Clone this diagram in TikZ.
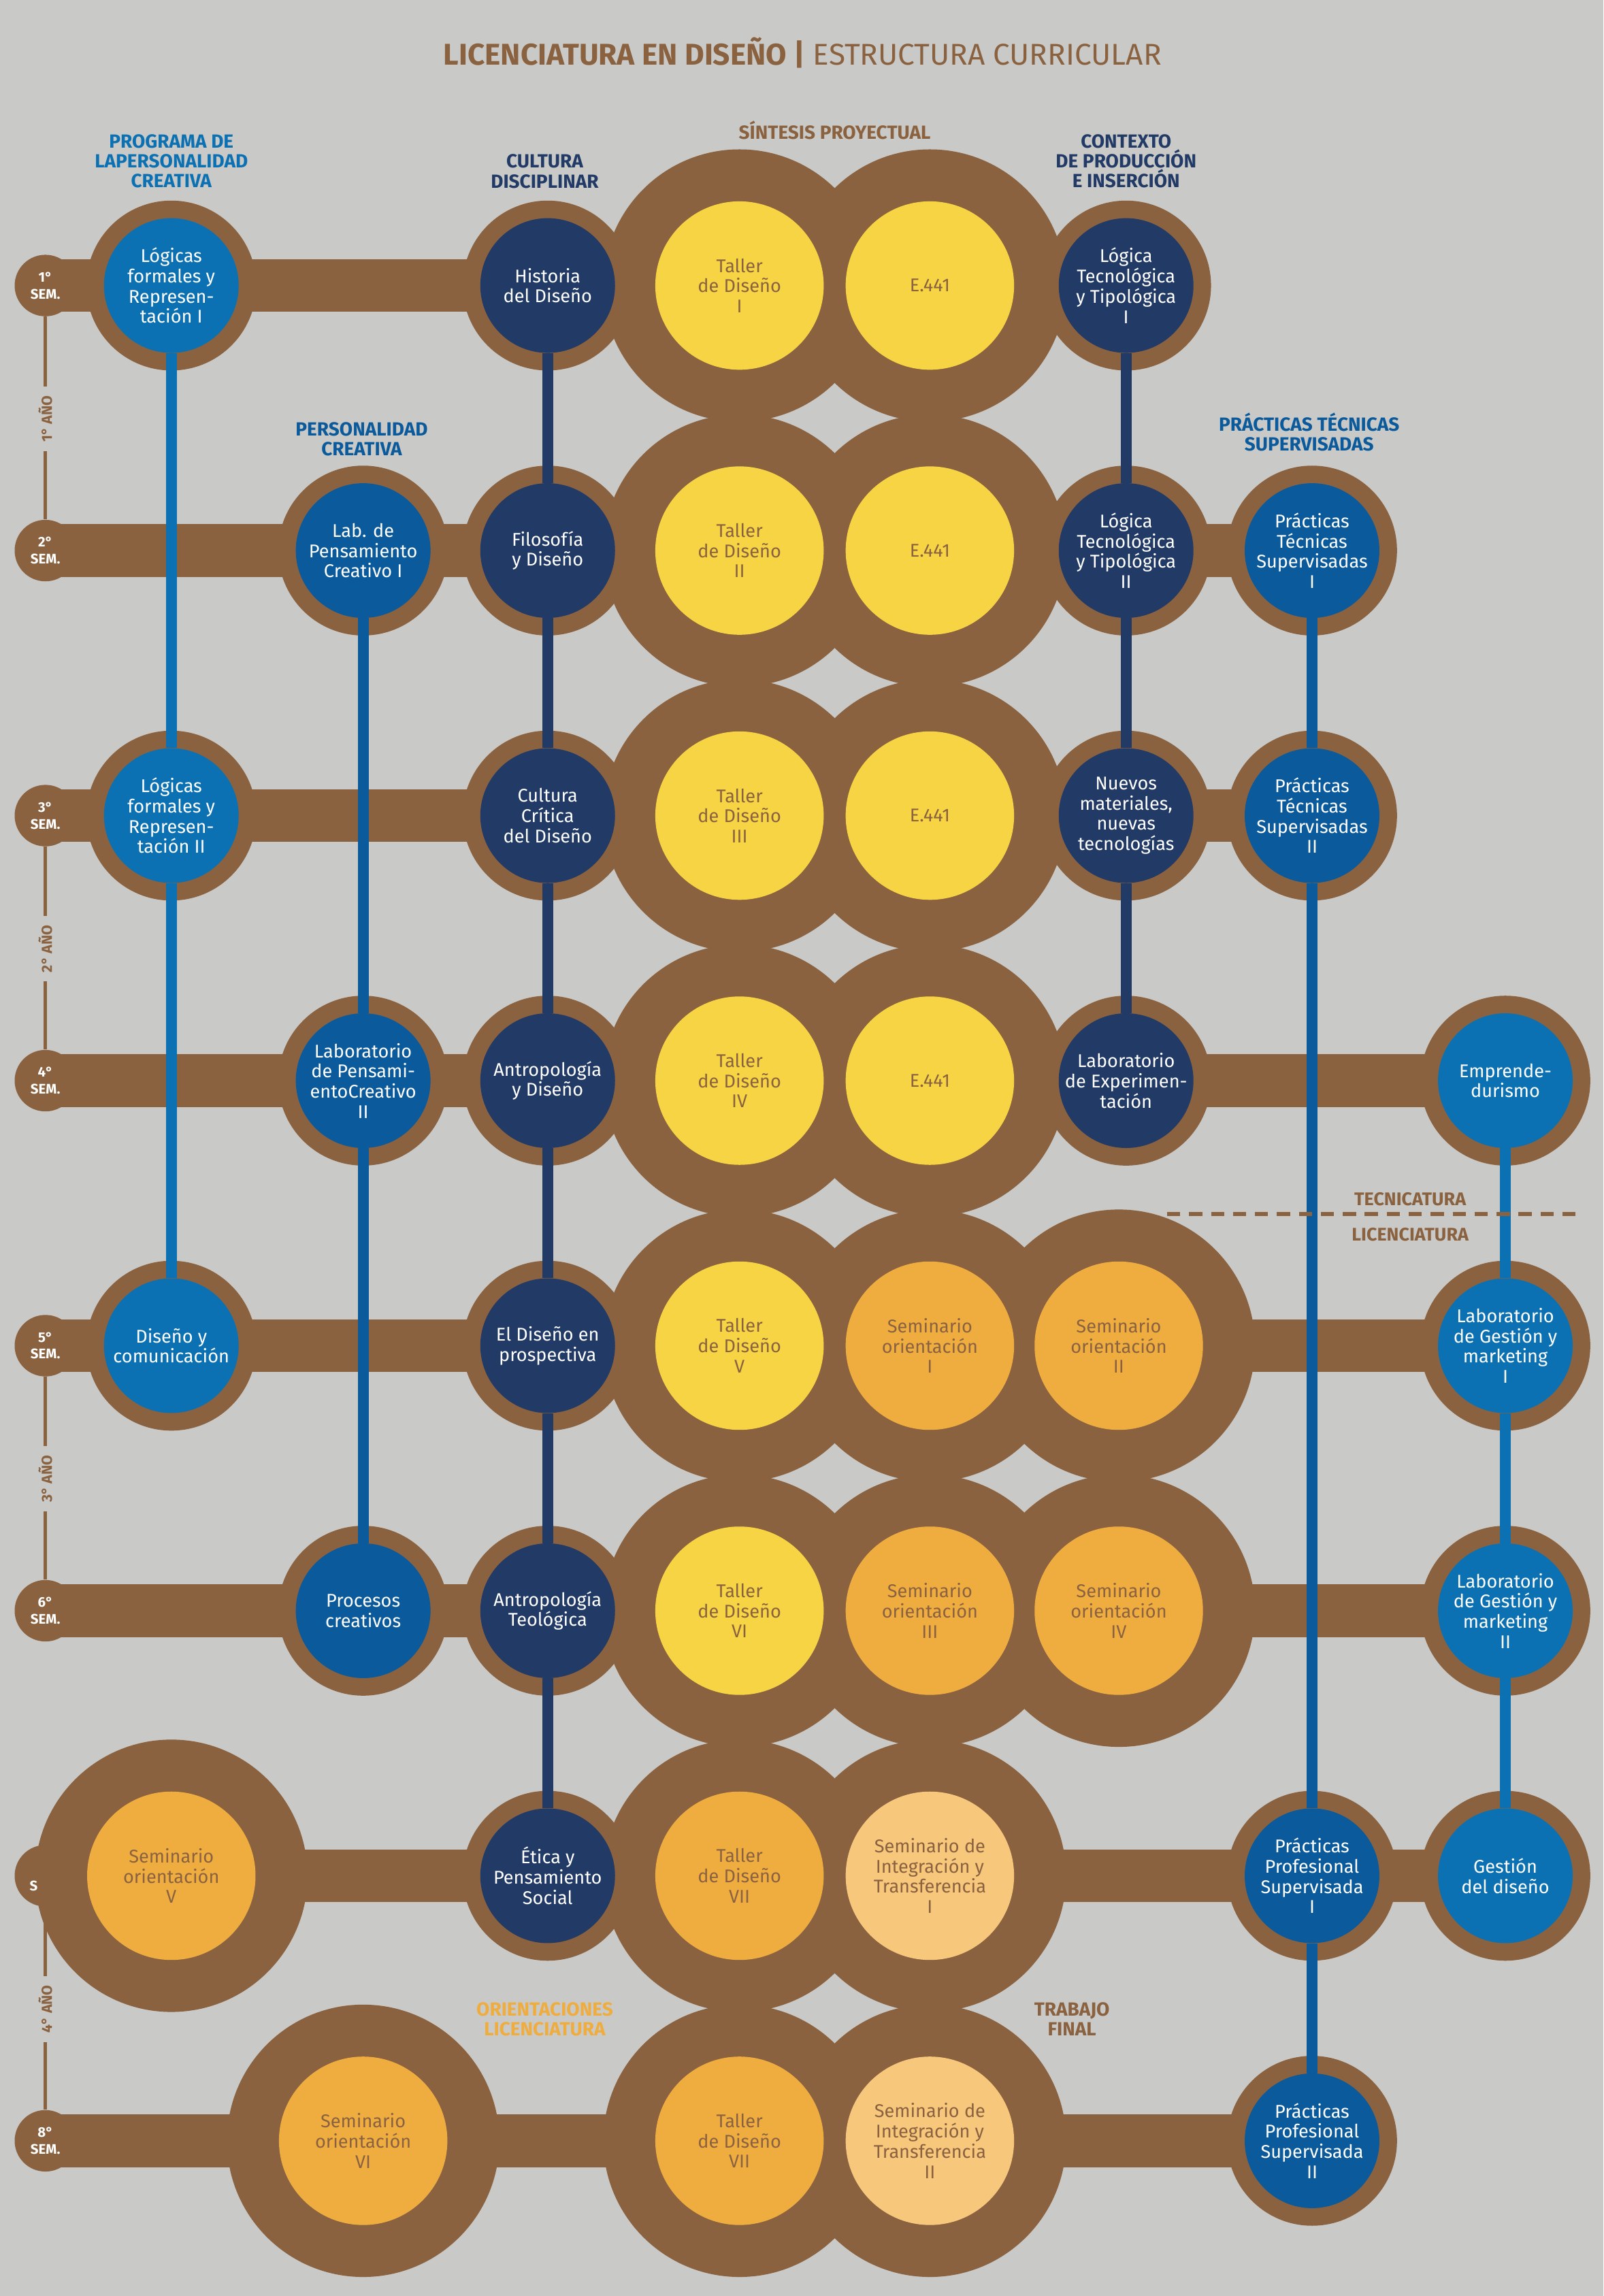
\documentclass[tikz,border=0pt]{standalone}
\usepackage{fontspec}
\setmainfont{Fira Sans}
\definecolor{bggray}{HTML}{C9C9C7}
\definecolor{brn}{HTML}{8A6240}
\definecolor{yel}{HTML}{F6D444}
\definecolor{orng}{HTML}{EFAD40}
\definecolor{paleor}{HTML}{F7C77C}
\definecolor{navy}{HTML}{223A66}
\definecolor{skyblue}{HTML}{0C71B3}
\definecolor{deepblue}{HTML}{0B5A9B}

\pgfdeclarelayer{canvas}
\pgfdeclarelayer{discs}
\pgfdeclarelayer{links}
\pgfsetlayers{canvas,discs,links,main}

\begin{document}
\begin{tikzpicture}[x=1pt, y=-1pt,
  course/.style={circle, inner sep=0pt, minimum size=92pt, align=center,
    text=white, font=\fontsize{12.6}{13.8}\selectfont},
  navyc/.style={course, fill=navy},
  skyc/.style={course, fill=skyblue},
  deepc/.style={course, fill=deepblue},
  studio/.style={course, minimum size=115pt, text=brn},
  yelc/.style={studio, fill=yel},
  orc/.style={studio, fill=orng},
  palec/.style={studio, fill=paleor},
  semc/.style={circle, fill=brn, minimum size=42pt, inner sep=0pt, align=center,
    text=white, font=\fontsize{9.5}{11.5}\selectfont\bfseries},
  yearlbl/.style={rotate=90, text=brn, font=\fontsize{10}{11}\selectfont\bfseries, inner sep=6pt},
  yearline/.style={brn, line width=2.5pt},
  bar/.style={brn, line width=36pt},
  head/.style={align=center, font=\fontsize{13}{13.6}\selectfont\bfseries},
  split/.style={text=brn, font=\fontsize{12.5}{13}\selectfont\bfseries},
  link/.style={line width=7.5pt},
]

% Background
\begin{pgfonlayer}{canvas}
  \fill[bggray] (0,0) rectangle (1095,1568);
\end{pgfonlayer}

% Title
\node[text=brn, font=\fontsize{20.5}{22}\selectfont] (title) at (548,36)
  {\textbf{LICENCIATURA EN DISEÑO |} ESTRUCTURA CURRICULAR};

% Column headers
\node[head, text=skyblue] (hprog) at (117,110) {PROGRAMA DE\\LAPERSONALIDAD\\CREATIVA};
\node[head, text=navy] (hcult) at (372,117) {CULTURA\\DISCIPLINAR};
\node[head, text=brn] (hsint) at (570,89) {SÍNTESIS PROYECTUAL};
\node[head, text=navy] (hcont) at (769,110) {CONTEXTO\\DE PRODUCCIÓN\\E INSERCIÓN};
\node[head, text=deepblue] (hpers) at (247,300) {PERSONALIDAD\\CREATIVA};
\node[head, text=deepblue] (hprac) at (894,295) {PRÁCTICAS TÉCNICAS\\SUPERVISADAS};
\node[head, text=orng] (horie) at (372,1379) {ORIENTACIONES\\LICENCIATURA};
\node[head, text=brn] (htrab) at (732,1379) {TRABAJO\\FINAL};

% Semester markers
\node[semc] (sem1) at (31,195) {1°\\SEM.};
\node[semc] (sem2) at (31,376) {2°\\SEM.};
\node[semc] (sem3) at (31,557) {3°\\SEM.};
\node[semc] (sem4) at (31,738) {4°\\SEM.};
\node[semc] (sem5) at (31,919) {5°\\SEM.};
\node[semc] (sem6) at (31,1100) {6°\\SEM.};
\node[semc] (sem7) at (31,1281) {};
\node[semc] (sem8) at (31,1462) {8°\\SEM.};

% Year labels
\node[yearlbl] (yr1) at (31,286) {1° AÑO};
\node[yearlbl] (yr2) at (31,648) {2° AÑO};
\node[yearlbl] (yr3) at (31,1010) {3° AÑO};
\node[yearlbl] (yr4) at (31,1372) {4° AÑO};

% Row 1
\node[skyc] (lfr1) at (117,195) {Lógicas\\formales y\\Represen-\\tación I};
\node[navyc] (hist) at (374,195) {Historia\\del Diseño};
\node[yelc] (tal1) at (505,195) {Taller\\de Diseño\\I};
\node[yelc] (ea1) at (635,195) {E.441};
\node[navyc] (lgt1) at (769,195) {Lógica\\Tecnológica\\y Tipológica\\I};

% Row 2
\node[deepc] (lpc1) at (248,376) {Lab. de\\Pensamiento\\Creativo I};
\node[navyc] (filo) at (374,376) {Filosofía\\y Diseño};
\node[yelc] (tal2) at (505,376) {Taller\\de Diseño\\II};
\node[yelc] (ea2) at (635,376) {E.441};
\node[navyc] (lgt2) at (769,376) {Lógica\\Tecnológica\\y Tipológica\\II};
\node[deepc] (pts1) at (896,376) {Prácticas\\Técnicas\\Supervisadas\\I};

% Row 3
\node[skyc] (lfr2) at (117,557) {Lógicas\\formales y\\Represen-\\tación II};
\node[navyc] (ccd) at (374,557) {Cultura\\Crítica\\del Diseño};
\node[yelc] (tal3) at (505,557) {Taller\\de Diseño\\III};
\node[yelc] (ea3) at (635,557) {E.441};
\node[navyc] (nmat) at (769,557) {Nuevos\\materiales,\\nuevas\\tecnologías};
\node[deepc] (pts2) at (896,557) {Prácticas\\Técnicas\\Supervisadas\\II};

% Row 4
\node[deepc] (lpc2) at (248,738) {Laboratorio\\de Pensami-\\entoCreativo\\II};
\node[navyc] (antd) at (374,738) {Antropología\\y Diseño};
\node[yelc] (tal4) at (505,738) {Taller\\de Diseño\\IV};
\node[yelc] (ea4) at (635,738) {E.441};
\node[navyc] (lexp) at (769,738) {Laboratorio\\de Experimen-\\tación};
\node[skyc] (empr) at (1028,738) {Emprende-\\durismo};

% Row 5
\node[skyc] (dcom) at (117,919) {Diseño y\\comunicación};
\node[navyc] (dpro) at (374,919) {El Diseño en\\prospectiva};
\node[yelc] (tal5) at (505,919) {Taller\\de Diseño\\V};
\node[orc] (sor1) at (635,919) {Seminario\\orientación\\I};
\node[orc] (sor2) at (764,919) {Seminario\\orientación\\II};
\node[skyc] (lgm1) at (1028,919) {Laboratorio\\de Gestión y\\marketing\\I};

% Row 6
\node[deepc] (pcre) at (248,1100) {Procesos\\creativos};
\node[navyc] (antt) at (374,1100) {Antropología\\Teológica};
\node[yelc] (tal6) at (505,1100) {Taller\\de Diseño\\VI};
\node[orc] (sor3) at (635,1100) {Seminario\\orientación\\III};
\node[orc] (sor4) at (764,1100) {Seminario\\orientación\\IV};
\node[skyc] (lgm2) at (1028,1100) {Laboratorio\\de Gestión y\\marketing\\II};

% Row 7
\node[orc] (sor5) at (117,1281) {Seminario\\orientación\\V};
\node[navyc] (etic) at (374,1281) {Ética y\\Pensamiento\\Social};
\node[orc] (tal7) at (505,1281) {Taller\\de Diseño\\VII};
\node[palec] (sit1) at (635,1281) {Seminario de\\Integración y\\Transferencia\\I};
\node[deepc] (pps1) at (896,1281) {Prácticas\\Profesional\\Supervisada\\I};
\node[skyc] (gdis) at (1028,1281) {Gestión\\del diseño};
\node[text=white, font=\fontsize{9.5}{11.5}\selectfont\bfseries] (sem7s) at (23,1288) {S};

% Row 8
\node[orc] (sor6) at (248,1462) {Seminario\\orientación\\VI};
\node[orc] (tal8) at (505,1462) {Taller\\de Diseño\\VII};
\node[palec] (sit2) at (635,1462) {Seminario de\\Integración y\\Transferencia\\II};
\node[deepc] (pps2) at (896,1462) {Prácticas\\Profesional\\Supervisada\\II};

% Tecnicatura / Licenciatura split
\coordinate (splitL) at (797,829);
\coordinate (splitR) at (1080,829);
\draw[brn, line width=2.5pt, dash pattern=on 9pt off 6pt] (splitL) -- (splitR);
\node[split] (tec) at (963,819) {TECNICATURA};
\node[split] (lic) at (963,843) {LICENCIATURA};

% Brown rows and rings
\begin{pgfonlayer}{discs}
  \foreach \s/\e in {sem1/lgt1, sem2/pts1, sem3/pts2, sem4/empr,
                     sem5/lgm1, sem6/lgm2, sem7/gdis, sem8/pps2}
    \draw[bar] (\s.center) -- (\e.center);
  \foreach \n in {lfr1, hist, lgt1, lpc1, filo, lgt2, pts1, lfr2, ccd, nmat, pts2,
                  lpc2, antd, lexp, empr, dcom, dpro, lgm1, pcre, antt, lgm2,
                  etic, pps1, gdis, pps2}
    \fill[brn] (\n.center) circle (58pt);
  \foreach \n in {tal1, ea1, tal2, ea2, tal3, ea3, tal4, ea4, tal5, sor1, sor2,
                  tal6, sor3, sor4, sor5, tal7, sit1, sor6, tal8, sit2}
    \fill[brn] (\n.center) circle (93pt);
\end{pgfonlayer}

% Year lines
\draw[yearline] (sem1) -- (yr1) -- (sem2);
\draw[yearline] (sem3) -- (yr2) -- (sem4);
\draw[yearline] (sem5) -- (yr3) -- (sem6);
\draw[yearline] (sem7) -- (yr4) -- (sem8);

% Column links
\begin{pgfonlayer}{links}
  \draw[link, skyblue] (lfr1) -- (lfr2) -- (dcom);
  \draw[link, deepblue] (lpc1) -- (lpc2) -- (pcre);
  \draw[link, navy] (hist) -- (filo) -- (ccd) -- (antd) -- (dpro) -- (antt) -- (etic);
  \draw[link, navy] (lgt1) -- (lgt2) -- (nmat) -- (lexp);
  \draw[link, deepblue] (pts1) -- (pts2) -- (pps1) -- (pps2);
  \draw[link, skyblue] (empr) -- (lgm1) -- (lgm2) -- (gdis);
\end{pgfonlayer}

\end{tikzpicture}
\end{document}
